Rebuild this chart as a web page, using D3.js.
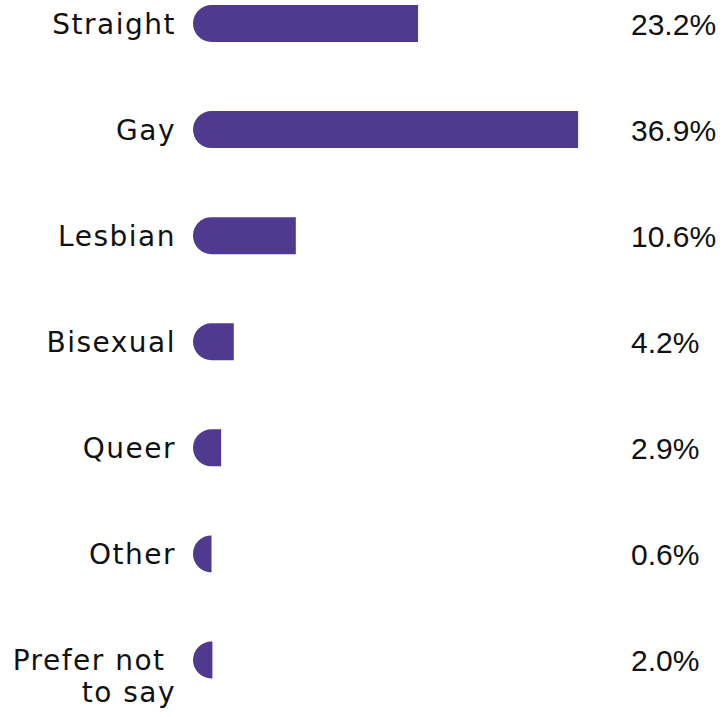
<!DOCTYPE html>
<html>
<head>
<meta charset="utf-8">
<script src="https://cdn.jsdelivr.net/npm/d3@7"></script>
<style>
  html, body { margin: 0; padding: 0; background: #ffffff; }
  svg { display: block; }
</style>
</head>
<body>
<script>
const categories = ["Straight", "Gay", "Lesbian", "Bisexual", "Queer", "Other", "Prefer not to say"];
const shares = [23.2, 36.9, 10.6, 4.2, 2.9, 0.6, 2.0];          // printed percentages
const barLengths = [23.2, 39.7, 10.6, 4.2, 2.9, 0.6, 2.0];      // bar lengths as drawn in the picture
const labelLines = [["Straight"], ["Gay"], ["Lesbian"], ["Bisexual"], ["Queer"], ["Other"], ["Prefer not\u00a0", "to say"]];

const W = 723, H = 717;
const barX0 = 193, barH = 37, r = barH / 2;
const svg = d3.select("body").append("svg").attr("width", W).attr("height", H);

const x = d3.scaleLinear().domain([0, 40]).range([0, 388]);
const y = d3.scalePoint().domain(categories).range([23.5, 660]);

const color = "#4f3a8f";

function barPath(x0, yc, w) {
  w = Math.max(r, w);
  const top = yc - r, bot = yc + r;
  return `M${x0 + r},${top}H${x0 + w}V${bot}H${x0 + r}A${r},${r} 0 0 1 ${x0 + r},${top}Z`;
}

const rows = svg.selectAll("g.row").data(categories).join("g").attr("class", "row");

rows.append("path")
  .attr("d", (d, i) => barPath(barX0, y(d), x(barLengths[i])))
  .attr("fill", color);

rows.append("text")
  .attr("x", 176)
  .attr("y", d => y(d) + 10)
  .attr("text-anchor", "end")
  .attr("font-family", "'DejaVu Sans', sans-serif")
  .attr("font-size", 28)
  .attr("letter-spacing", 1.5)
  .attr("fill", "#111")
  .each(function(d, i) {
    const t = d3.select(this);
    labelLines[i].forEach((ln, j) => {
      t.append("tspan").attr("x", 176).attr("dy", j === 0 ? 0 : 32).text(ln);
    });
  });

rows.append("text")
  .attr("x", 631)
  .attr("y", d => y(d) + 11)
  .attr("font-family", "'Liberation Sans', Arial, sans-serif")
  .attr("font-size", 30)
  .attr("fill", "#111")
  .text((d, i) => shares[i].toFixed(1) + "%");
</script>
</body>
</html>
